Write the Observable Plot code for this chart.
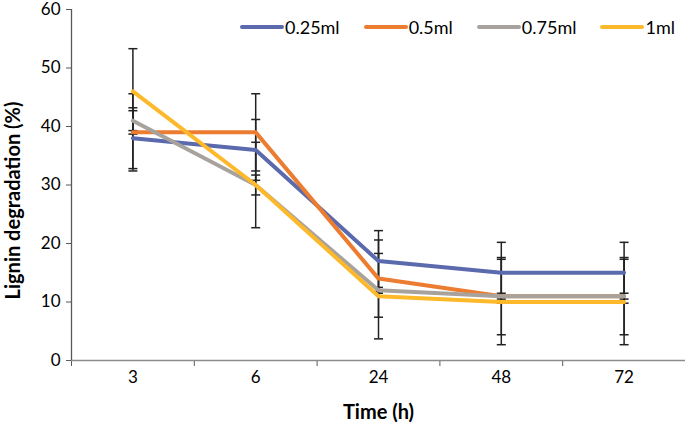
<!DOCTYPE html>
<html><head><meta charset="utf-8">
<script src="https://cdn.jsdelivr.net/npm/d3@7"></script>
<script src="https://cdn.jsdelivr.net/npm/@observablehq/plot@0.6"></script>
<style>
body{margin:0;background:#fff;}
#wrap{position:relative;width:685px;height:428px;font-family:Lato,sans-serif;}
#legend{position:absolute;top:16px;left:240px;display:flex;align-items:center;gap:24px;font-size:18px;color:#000;}
#legend .item{display:flex;align-items:center;gap:1px;}
</style></head><body><div id="wrap"><div id="legend"></div></div>
<script>
const times = ["3","6","24","48","72"];
const seriesNames = ["0.25ml","0.5ml","0.75ml","1ml"];
const colors = ["#5b69ad","#ec7c30","#a8a29d","#fdb92a"];
const v025 = [38,36,17,15,15];
const v05 = [39,39,14,11,11];
const v075 = [41,30,12,11,11];
const v1 = [46,30,11,10,10];
const e025 = [5.2,5.2,5.2,5.2,5.2];
const e05 = [6.6,6.6,6.6,6.6,6.6];
const e075 = [1.7,1.7,0.5,0.5,0.5];
const e1 = [7.3,7.3,7.3,7.3,7.3];
const yTicks = [0,10,20,30,40,50,60];

const vals = [v025, v05, v075, v1];
const errs = [e025, e05, e075, e1];
const data = [];
seriesNames.forEach((s, k) => times.forEach((t, i) => data.push({series: s, i, time: t, value: vals[k][i], err: errs[k][i]})));

const capSymbol = {draw(ctx, size){ const r = Math.sqrt(size/Math.PI); ctx.moveTo(-r,0); ctx.lineTo(r,0);} };
const bounds = d3.range(times.length + 1).map(i => i - 0.5);

const chart = Plot.plot({
  width: 685, height: 428,
  marginLeft: 71, marginRight: 0, marginTop: 9, marginBottom: 68,
  style: {fontFamily: "Lato, sans-serif", fontSize: "17px", color: "#000", background: "#fff", overflow: "visible"},
  x: {type: "linear", domain: [-0.5, times.length - 0.5]},
  y: {domain: [0, 60]},
  color: {domain: seriesNames, range: colors},
  marks: [
    Plot.ruleX(data, {x: "i", y1: d => d.value - d.err, y2: d => d.value + d.err, stroke: "#222", strokeWidth: 1.5}),
    Plot.dot(data, {x: "i", y: d => d.value - d.err, symbol: capSymbol, r: 4.5, fill: "none", stroke: "#222", strokeWidth: 1.5}),
    Plot.dot(data, {x: "i", y: d => d.value + d.err, symbol: capSymbol, r: 4.5, fill: "none", stroke: "#222", strokeWidth: 1.5}),
    Plot.line(data, {x: "i", y: "value", z: "series", stroke: "series", strokeWidth: 4, strokeLinejoin: "round"}),
    Plot.axisY({ticks: yTicks, tickSize: 5, tickPadding: 6, label: null, stroke: "#595959"}),
    Plot.axisX({ticks: bounds, tickFormat: () => "", tickSize: 6, label: null, stroke: "#595959"}),
    Plot.axisX({ticks: d3.range(times.length), tickFormat: i => times[i], tickSize: 0, tickPadding: 10, label: null}),
    Plot.ruleY([0], {stroke: "#8c8c8c", strokeWidth: 1.3}),
    Plot.ruleX([-0.5], {stroke: "#595959", strokeWidth: 1.3}),
    Plot.text(["Time (h)"], {frameAnchor: "bottom", dy: 58, fontWeight: "bold", fontSize: 20}),
    Plot.text(["Lignin degradation (%)"], {frameAnchor: "left", textAnchor: "middle", dx: -58, dy: 15.5, rotate: -90, fontWeight: "bold", fontSize: 20, letterSpacing: "1.5px"})
  ]
});
document.getElementById("wrap").prepend(chart);

const legend = document.getElementById("legend");
seriesNames.forEach((s, k) => {
  const item = document.createElement("div");
  item.className = "item";
  item.innerHTML = `<svg width="44" height="8"><line x1="2" y1="4" x2="42" y2="4" stroke="${colors[k]}" stroke-width="4" stroke-linecap="round"/></svg><span>${s}</span>`;
  legend.appendChild(item);
});
</script>
</body></html>
